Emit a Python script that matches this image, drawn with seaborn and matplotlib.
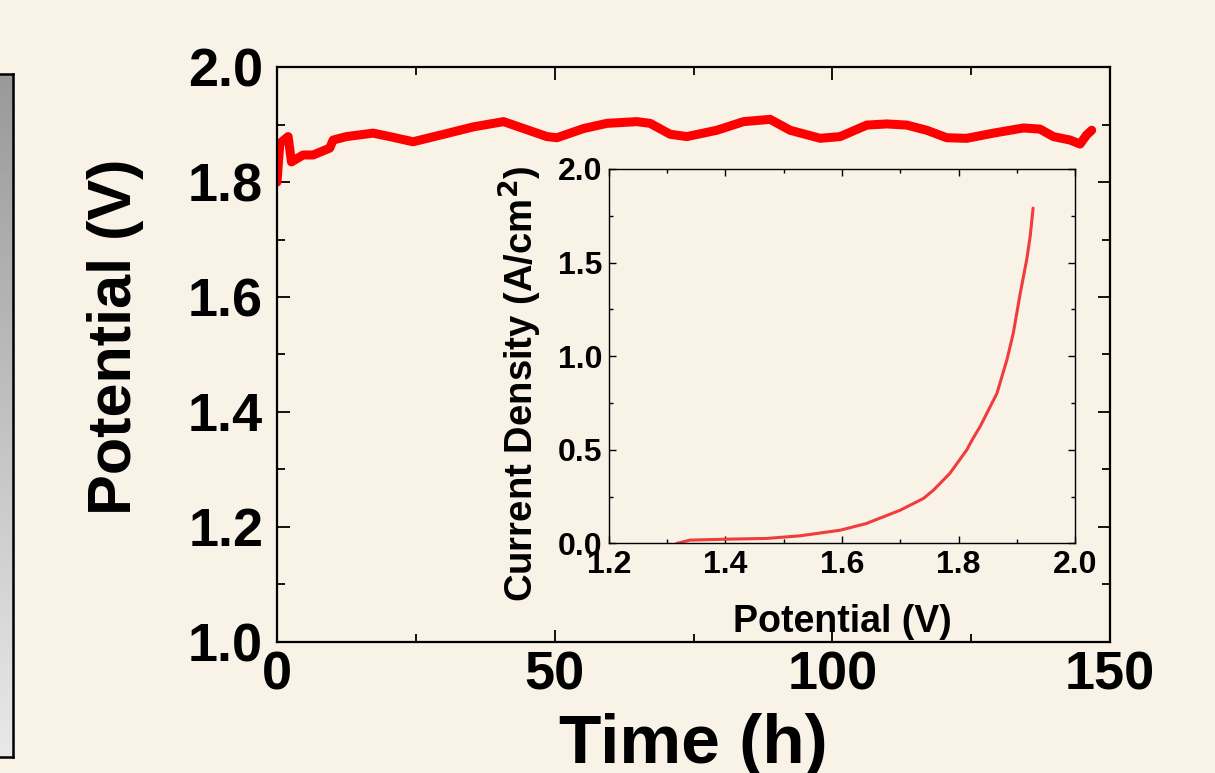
import numpy as np
import pandas as pd
import matplotlib
matplotlib.use('Agg')
import matplotlib.pyplot as plt
from matplotlib.ticker import MultipleLocator, FormatStrFormatter
import seaborn as sns

# stability test: potential vs time
time_h = [0.0, 0.5, 2.0, 2.6, 4.7, 6.5, 9.5, 10.1, 12.5, 17.3, 20.3, 24.5, 30.0,
          35.4, 40.8, 44.4, 48.6, 50.4, 55.2, 59.4, 64.8, 67.2, 70.8, 73.8, 79.2,
          84.0, 88.8, 92.4, 97.8, 101.4, 106.2, 109.8, 113.4, 117.0, 120.6, 124.2,
          129.0, 134.4, 137.4, 139.8, 142.8, 144.6, 145.8, 146.7]
potential_v = [1.800, 1.867, 1.879, 1.835, 1.847, 1.847, 1.859, 1.873, 1.879, 1.885,
               1.879, 1.870, 1.883, 1.896, 1.905, 1.893, 1.879, 1.877, 1.893, 1.902,
               1.905, 1.902, 1.883, 1.879, 1.890, 1.905, 1.909, 1.890, 1.876, 1.879,
               1.899, 1.901, 1.899, 1.890, 1.877, 1.876, 1.885, 1.894, 1.892, 1.879,
               1.873, 1.866, 1.882, 1.890]

# inset: polarization curve
pol_v = [1.316, 1.339, 1.402, 1.471, 1.528, 1.597, 1.642, 1.700, 1.740, 1.757,
         1.785, 1.814, 1.825, 1.837, 1.866, 1.883, 1.894, 1.906, 1.917, 1.923, 1.928]
pol_j = [0.0, 0.018, 0.023, 0.027, 0.041, 0.071, 0.107, 0.178, 0.241, 0.285,
         0.374, 0.499, 0.562, 0.624, 0.802, 0.980, 1.123, 1.337, 1.515, 1.640, 1.791]

df_main = pd.DataFrame({'t': time_h, 'v': potential_v})
df_pol = pd.DataFrame({'v': pol_v, 'j': pol_j})

bg = '#f8f2e7'
sns.set_theme(style='ticks')
plt.rcParams['font.family'] = ['Liberation Sans', 'DejaVu Sans']
plt.rcParams['font.weight'] = 'bold'
plt.rcParams['axes.labelweight'] = 'bold'
plt.rcParams['mathtext.default'] = 'bf'
plt.rcParams['text.color'] = 'black'
plt.rcParams['axes.labelcolor'] = 'black'
plt.rcParams['xtick.color'] = 'black'
plt.rcParams['ytick.color'] = 'black'

fig = plt.figure(figsize=(12.15, 7.73), dpi=100, facecolor=bg)

# grey panel cut off at the left edge
ax_box = fig.add_axes([-0.006, 0.0207, 0.0165, 0.8836])
grad = np.linspace(0.6, 0.91, 256).reshape(-1, 1)
ax_box.imshow(grad, aspect='auto', cmap='gray', vmin=0, vmax=1, extent=[0, 1, 0, 1], origin='upper')
ax_box.set_xticks([])
ax_box.set_yticks([])
for s in ax_box.spines.values():
    s.set_linewidth(1.8)
    s.set_color('black')

# main axes
ax = fig.add_axes([0.228, 0.1695, 0.6856, 0.7438])
ax.set_facecolor(bg)
sns.lineplot(data=df_main, x='t', y='v', ax=ax, color='#ff0000', linewidth=6.5,
             sort=False, solid_joinstyle='round', solid_capstyle='round')
ax.set_xlim(0, 150)
ax.set_ylim(1.0, 2.0)
ax.xaxis.set_major_locator(MultipleLocator(50))
ax.xaxis.set_minor_locator(MultipleLocator(25))
ax.yaxis.set_major_locator(MultipleLocator(0.2))
ax.yaxis.set_minor_locator(MultipleLocator(0.1))
ax.yaxis.set_major_formatter(FormatStrFormatter('%.1f'))
ax.tick_params(which='both', direction='in', top=True, right=True, width=1.3, color='black')
ax.tick_params(which='major', length=9)
ax.tick_params(which='minor', length=5.5)
ax.tick_params(axis='y', which='major', labelsize=39, pad=10)
ax.tick_params(axis='x', which='major', labelsize=39, pad=6)
for s in ax.spines.values():
    s.set_linewidth(1.6)
    s.set_color('black')
ax.set_xlabel('Time (h)', fontsize=50, fontweight='bold', va='center')
ax.set_ylabel('Potential (V)', fontsize=44, fontweight='bold', va='center')
ax.xaxis.set_label_coords(0.5, -0.18)
ax.yaxis.set_label_coords(-0.1945, 0.53)

# inset axes
ins = fig.add_axes([0.5012, 0.2969, 0.3836, 0.4845])
ins.set_facecolor(bg)
sns.lineplot(data=df_pol, x='v', y='j', ax=ins, color='#f03c3c', linewidth=2.2,
             sort=False, solid_joinstyle='round')
ins.set_xlim(1.2, 2.0)
ins.set_ylim(0.0, 2.0)
ins.xaxis.set_major_locator(MultipleLocator(0.2))
ins.xaxis.set_minor_locator(MultipleLocator(0.1))
ins.yaxis.set_major_locator(MultipleLocator(0.5))
ins.yaxis.set_minor_locator(MultipleLocator(0.25))
ins.xaxis.set_major_formatter(FormatStrFormatter('%.1f'))
ins.yaxis.set_major_formatter(FormatStrFormatter('%.1f'))
ins.tick_params(which='both', direction='in', top=True, right=True, width=1.0, color='black')
ins.tick_params(which='major', length=5)
ins.tick_params(which='minor', length=3)
ins.tick_params(axis='y', which='major', labelsize=23, pad=5)
ins.tick_params(axis='x', which='major', labelsize=23, pad=5)
for s in ins.spines.values():
    s.set_linewidth(1.0)
    s.set_color('black')
ins.set_xlabel('Potential (V)', fontsize=27, fontweight='bold', va='center')
ins.set_ylabel('Current Density (A/cm$^2$)', fontsize=27.5, fontweight='bold', va='center')
ins.xaxis.set_label_coords(0.5, -0.21)
ins.yaxis.set_label_coords(-0.19, 0.426)

fig.savefig('out.png', dpi=100, facecolor=bg)
